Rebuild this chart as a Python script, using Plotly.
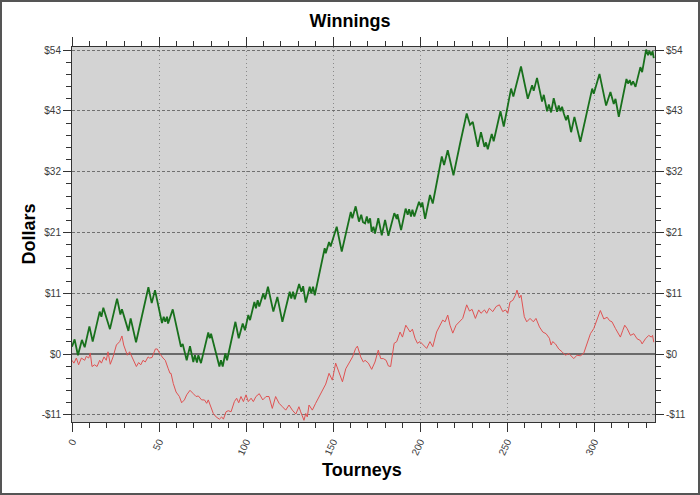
import plotly.graph_objects as go

# ---- data ----
green_x = [0, 1.5, 3.4, 5.7, 7.3, 10, 11.9, 15.9, 16.9, 18, 21.8, 25.9, 27.8, 28.7, 32.4, 33.7, 36.8,
           43.9, 45.8, 47.7, 51.7, 52.7, 53.6, 54.6, 55.2, 57.9, 62.6, 63.6, 65.9, 67.8, 69.7, 70.6,
           71.8, 72.6, 74.1, 78.3, 79.1, 79.9, 84.7, 85.6, 86.6, 88.1, 89.1, 93.9, 95.8, 98.1, 99.4,
           101.3, 102.3, 104.8, 105.7, 106.7, 107.6, 109.9, 110.9, 112.6, 115.7, 118, 120.9, 125.1,
           126, 127, 128, 130.5, 131.8, 132.8, 134.3, 136.6, 137.5, 138.5, 139.5, 145.2, 145.8,
           147.7, 148.6, 152.1, 155, 160.2, 161.1, 163, 164.9, 166.2, 167.2, 168.4, 169.4, 170.3,
           171.3, 172.2, 173.2, 174.1, 176, 178, 179.9, 181.8, 185.2, 186.6, 187, 189.1, 191.7,
           192.9, 193.7, 194.8, 195.6, 196.7, 199.4, 200.6, 201.3, 202.9, 205.7, 207.3, 212.5,
           213.8, 215.9, 219.2, 223, 226.8, 228.7, 230.3, 233.2, 235, 237, 237.9, 238.9, 241.2,
           242.3, 246.2, 248.1, 252.3, 253.6, 258, 261.9, 264.4, 265.3, 267.2, 270.1, 271.1, 273,
           274, 275.3, 276.8, 278.7, 279.7, 280.7, 281.6, 282.6, 283.9, 284.9, 286.8, 288.7, 292.1,
           298.9, 299.8, 303.1, 306.9, 309.4, 311.3, 312.3, 314.2, 318.6, 319.5, 320.5, 321.4,
           322.4, 323.8, 326.6, 327.6, 329.9, 331, 331.8, 332.7, 333.6, 334.3]
green_y = [1.3, 2.6, -0.2, 2.5, 1.2, 4.9, 2.2, 7.5, 6.6, 8.2, 4.4, 9.8, 7.0, 7.9, 4.1, 6.3, 2.1,
           11.8, 9.0, 11.3, 5.5, 6.6, 5.7, 6.6, 5.4, 7.9, 1.3, 1.8, -1.1, 1.4, -1.4, -0.2,
           -1.5, -0.2, -1.6, 3.8, 2.8, 3.6, -2.2, -1.1, -2.2, 0.1, -1.1, 5.7, 2.8, 5.4, 4.2,
           6.9, 6.0, 9.2, 8.1, 9.5, 8.4, 10.7, 9.7, 11.9, 7.5, 10.1, 5.7, 11.0,
           9.8, 11.0, 9.7, 12.4, 11.0, 12.0, 9.1, 11.9, 10.7, 11.9, 10.4, 18.7, 17.8,
           19.8, 19.0, 22.5, 18.1, 25.1, 24.0, 26.1, 23.4, 24.6, 23.3, 23.1, 24.3, 23.1,
           24.0, 21.6, 22.5, 21.3, 24.0, 21.0, 23.7, 20.9, 24.9, 23.9, 24.7, 21.9, 25.7,
           24.6, 25.6, 24.3, 25.5, 24.3, 26.9, 26.0, 26.8, 23.9, 28.1, 26.6, 34.9,
           33.4, 36.0, 31.6, 37.2, 42.5, 40.5, 41.0, 36.6, 39.2, 36.6, 37.4, 36.2, 38.9,
           37.6, 42.9, 40.2, 46.9, 45.5, 50.8, 45.1, 47.5, 46.5, 48.8, 44.6, 45.8, 42.9,
           44.1, 42.7, 45.2, 42.8, 43.9, 42.9, 43.7, 42.5, 41.3, 42.2, 39.2, 41.9, 37.5,
           46.9, 46.0, 49.5, 43.9, 46.3, 44.2, 45.1, 41.9, 48.6, 47.8, 48.4, 47.5,
           48.2, 47.2, 50.7, 49.8, 53.8, 52.8, 53.6, 52.8, 53.5, 52.3]

red_x = [0, 1.1, 2.5, 3.8, 5.4, 7.3, 8.2, 9.6, 10.5, 11.5, 13, 14.4, 15.9, 16.9, 18.4, 19.7, 20.7,
         22, 23.6, 25.5, 27.4, 28.7, 29.7, 31.8, 33.1, 35.1, 37, 38.3, 39.5, 40.8, 42.1, 43.7,
         44.6, 46, 47.9, 49, 50.4, 52.3, 53.6, 55.2, 56.3, 56.9, 58.2, 59.8, 61.7, 63, 64.6,
         65.9, 67.8, 69.7, 71.3, 72.6, 74.5, 76.1, 77.4, 78.3, 79.9, 81.2, 82.8, 84.7, 86,
         87, 88.5, 89.8, 91.4, 93.3, 94.6, 95.8, 97.1, 98.5, 100, 101.3, 102.9, 104.2, 105.7,
         107.6, 109.6, 111.5, 113.2, 115.1, 117, 119, 120.9, 122.8, 124.7, 126.6, 128.6,
         130.4, 131.4, 133.3, 134.3, 135.2, 136.2, 138.1, 140, 141.9, 144.4, 145.8, 147.7,
         149.6, 151.5, 153.5, 155.4, 157.3, 159.2, 161.2, 163, 164, 165.9, 167.4, 168.4,
         170.3, 172.2, 174.1, 176, 177.4, 178.9, 180.5, 181.8, 183.1, 185.1, 186.6, 188.5,
         189.9, 191.8, 192.9, 194.3, 195.6, 197.1, 198.5, 200, 201.9, 203.8, 205.7, 207.3,
         209.5, 211.5, 213, 214.4, 215.9, 217.2, 218.8, 220.7, 222.6, 224.5, 226.8, 228.4,
         229.9, 231.8, 233.7, 235, 237, 238.3, 239.8, 241.8, 243.7, 245.6, 247.5, 249.1,
         250.4, 251.7, 253.3, 254.8, 255.7, 257.1, 258, 259.9, 261.3, 263.2, 265.1, 266.6,
         268.6, 270.5, 272.4, 274.3, 275.3, 276.2, 277.8, 279.7, 281.6, 283.5, 285.5, 287.4,
         288.3, 290.2, 292.1, 294, 296, 297.9, 299.8, 301.7, 303.6, 305.6, 307.5, 308.9,
         310.3, 312.3, 314.2, 315.1, 316.5, 317.6, 319, 320.9, 322.8, 324.7, 326.6, 327.6,
         329.5, 331.4, 332.9, 333.6, 334.3]
red_y = [-1.1, -1.6, -0.7, -1.9, -0.7, -1.1, -0.4, -0.7, 0.2, -2.2, -1.9, -2.2, -1.1, -1.6, -0.5,
         -1.1, 0.4, -1.8, -0.5, 1.6, 2.2, 3.2, 1.6, -0.2, 0.4, -1.1, -2.2, -1.5, -1.9, -1.1,
         -1.4, -0.5, -0.7, -0.6, 0.9, 0.9, 0.1, -0.7, -1.1, -2.5, -3.4, -3.4, -5.2, -6.7,
         -7.5, -8.6, -8.1, -7.2, -6.4, -7.0, -7.5, -7.4, -8.1, -8.1, -8.7, -8.1, -9.6, -10.5,
         -11.1, -11.5, -11.1, -11.5, -10.2, -10.0, -10.2, -8.4, -7.8, -8.6, -7.5, -8.4, -7.2,
         -8.4, -7.8, -8.4, -7.5, -7.0, -8.1, -7.5, -7.5, -9.6, -7.5, -8.7, -9.3, -9.9, -9.0,
         -9.9, -10.6, -9.3, -10.2, -11.7, -10.5, -11.1, -9.0, -9.9, -8.7, -7.5, -6.1, -5.3,
         -3.4, -4.6, -1.6, -3.4, -4.9, -2.6, -1.6, -0.5, 1.0, 1.4, -0.5, -1.4, -1.1,
         -1.6, -2.7, -1.4, 0.7, -0.8, -0.8, -1.1, -2.1, -2.2, 1.9, 2.2, 3.9,
         3.0, 5.1, 4.5, 3.9, 4.4, 2.8, 1.9, 2.2, 1.6, 1.0, 2.2, 1.3,
         3.9, 5.1, 6.0, 5.7, 6.9, 5.1, 3.7, 5.1, 5.7, 6.3, 8.7, 7.6,
         7.9, 6.3, 7.8, 7.2, 7.8, 7.2, 8.1, 7.5, 8.4, 8.7, 7.5, 7.8,
         7.2, 9.2, 9.5, 10.4, 11.3, 9.9, 10.4, 6.6, 5.7, 6.3, 5.7, 6.3,
         4.8, 3.9, 3.6, 2.8, 1.6, 2.2, 1.8, 0.9, 0.4, -0.2, 0.1, -0.4,
         -0.8, -0.2, -0.3, 0.1, 1.8, 3.6, 4.5, 6.2, 7.7, 6.2, 6.5, 5.9,
         5.7, 4.5, 3.3, 3.0, 4.2, 5.1, 4.5, 3.3, 3.6, 2.7, 2.4, 1.8,
         2.7, 3.3, 3.0, 3.3, 2.1]

y_tick_vals = [-10.74, 0, 10.74, 21.48, 32.22, 42.96, 53.7]
y_tick_text = ["-$11", "$0", "$11", "$21", "$32", "$43", "$54"]
x_tick_vals = [0, 50, 100, 150, 200, 250, 300]
x_tick_text = ["0", "50", "100", "150", "200", "250", "300"]

Y_RANGE = [-12.0, 54.25]
X_RANGE = [0, 335]
FONT = "Liberation Sans, Arial, sans-serif"

fig = go.Figure()
fig.add_trace(go.Scatter(x=red_x, y=red_y, mode="lines",
                         line=dict(color="#e05252", width=1), showlegend=False))
fig.add_trace(go.Scatter(x=green_x, y=green_y, mode="lines",
                         line=dict(color="#18701c", width=1.8), showlegend=False))
# invisible trace to activate the right-hand axis
fig.add_trace(go.Scatter(x=[0], y=[0], yaxis="y2", mode="markers",
                         marker=dict(opacity=0), showlegend=False, hoverinfo="skip"))

tickfont = dict(family=FONT, size=10, color="#3a3a3a")
fig.update_layout(
    width=700, height=495,
    margin=dict(l=72, r=45, t=47, b=73),
    paper_bgcolor="white",
    plot_bgcolor="#d3d3d3",
    title=dict(text="<b>Winnings</b>", x=0.5, xanchor="center", y=1 - 21 / 495,
               yanchor="middle", yref="container", font=dict(family=FONT, size=18, color="black")),
    xaxis=dict(range=X_RANGE, tickmode="array", tickvals=x_tick_vals, ticktext=x_tick_text,
               tickangle=-65, tickfont=tickfont, ticks="outside", ticklen=9, tickcolor="#333",
               showline=True, linecolor="#333", linewidth=1, mirror="ticks",
               showgrid=True, gridcolor="#8a8a8a", griddash="1px,3px", gridwidth=1,
               zeroline=False,
               minor=dict(tickmode="linear", tick0=0, dtick=10, ticks="outside", ticklen=5,
                          tickcolor="#333", showgrid=False)),
    yaxis=dict(range=Y_RANGE, tickmode="array", tickvals=y_tick_vals, ticktext=y_tick_text,
               tickfont=tickfont, ticks="outside", ticklen=8, tickcolor="#333",
               showline=True, linecolor="#333", linewidth=1, mirror="ticks",
               showgrid=True, gridcolor="#707070", griddash="3px,2px", gridwidth=1,
               zeroline=True, zerolinecolor="#6a6a6a", zerolinewidth=2,
               minor=dict(tickmode="linear", tick0=0, dtick=2.148, ticks="outside", ticklen=5,
                          tickcolor="#333", showgrid=False)),
    yaxis2=dict(range=Y_RANGE, overlaying="y", side="right", tickmode="array",
                tickvals=y_tick_vals, ticktext=y_tick_text, tickfont=tickfont,
                ticks="outside", ticklen=8, tickcolor="#333", showgrid=False, zeroline=False,
                showline=False,
                minor=dict(tickmode="linear", tick0=0, dtick=2.148, ticks="outside", ticklen=5,
                           tickcolor="#333", showgrid=False)),
    annotations=[
        dict(text="<b>Dollars</b>", xref="paper", yref="paper", x=-44 / 583, y=0.5,
             xanchor="center", yanchor="middle", textangle=-90, showarrow=False,
             font=dict(family=FONT, size=18, color="black")),
        dict(text="<b>Tourneys</b>", xref="paper", yref="paper", x=(362 - 72) / 583,
             y=(422 - 470) / 375, xanchor="center", yanchor="middle", showarrow=False,
             font=dict(family=FONT, size=18, color="black")),
    ],
    shapes=[
        dict(type="rect", xref="paper", yref="paper",
             x0=(1 - 72) / 583, x1=(699 - 72) / 583, y0=(422 - 494) / 375, y1=(422 - 1) / 375,
             line=dict(color="#555555", width=2), fillcolor="rgba(0,0,0,0)", layer="above"),
    ],
)

fig.write_html("out.html", config={"displayModeBar": False},
               post_script="document.body.style.margin='0';document.body.style.padding='0';")
